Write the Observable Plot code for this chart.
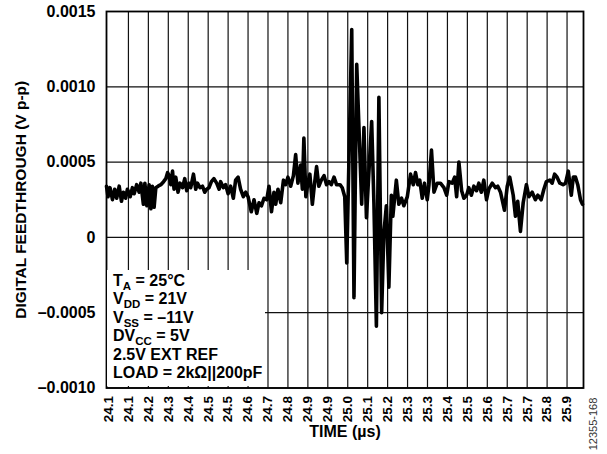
<!DOCTYPE html>
<html><head><meta charset="utf-8">
<script src="https://cdn.jsdelivr.net/npm/d3@7"></script>
<script src="https://cdn.jsdelivr.net/npm/@observablehq/plot@0.6"></script>
<style>
html,body{margin:0;padding:0;background:#fff;}
#wrap{position:relative;width:607px;height:454px;font-family:"Liberation Sans",Arial,sans-serif;font-weight:bold;}
#legend{position:absolute;left:107px;top:270px;width:158px;height:116px;background:#fff;}
.ll{position:absolute;left:6px;font-size:16px;line-height:16px;white-space:nowrap;color:#000;}
.ll sub{font-size:11.5px;vertical-align:-4px;line-height:0;}
</style></head><body><div id="wrap"><div id="chart"></div><div id="legend"></div></div>
<script>
// Time (µs)
const time = [
24.052,24.058,24.066,24.076,24.085,24.093,24.103,24.112,24.120,24.129,
24.136,24.147,24.156,24.163,24.173,24.183,24.190,24.200,24.206,24.214,
24.223,24.230,24.236,24.243,24.250,24.259,24.270,24.281,24.290,24.297,
24.303,24.310,24.317,24.323,24.330,24.339,24.347,24.357,24.366,24.374,
24.383,24.390,24.401,24.410,24.417,24.427,24.437,24.446,24.454,24.463,
24.473,24.483,24.494,24.504,24.510,24.521,24.530,
24.540,24.550,24.561,24.570,24.580,24.590,24.601,24.611,24.620,24.633,
24.644,24.655,24.664,24.674,24.684,24.695,24.704,24.714,24.724,24.731,
24.740,24.751,24.762,24.771,24.780,24.791,24.802,24.811,24.820,24.831,
24.838,24.844,24.852,24.860,24.868,24.878,24.887,24.895,24.904,24.914,
24.925,24.935,24.945,24.954,24.965,24.975,24.989,24.998,25.008,
25.016,25.036,25.045,25.056,25.076,25.085,25.095,25.116,25.125,25.135,
25.145,25.156,25.165,25.175,25.185,25.195,25.201,25.215,25.225,25.236,
25.245,
25.259,25.272,25.283,25.292,25.301,25.309,25.319,25.328,25.339,25.346,
25.356,25.366,25.379,25.392,25.406,25.417,25.426,25.439,25.449,25.457,
25.466,25.477,25.486,25.497,25.506,25.516,25.526,25.537,25.546,25.556,
25.566,25.577,25.586,25.600,25.613,25.622,25.633,25.649,25.660,25.670,
25.684,25.693,25.702,25.713,25.724,25.737,25.747,25.760,25.773,25.783,
25.796,25.807,25.817,25.831,25.840,25.850,25.860,25.871,25.884,25.894,
25.905,25.917,25.925,25.934,25.943,25.954,25.962
];
// Digital feedthrough (V p-p)
const feedthrough = [
0.00034,0.00027,0.00033,0.00025,0.00032,0.00026,0.00034,0.00024,0.00030,0.00026,
0.00032,0.00027,0.00033,0.00029,0.00035,0.00030,0.00036,0.00022,0.00036,0.00021,
0.00035,0.00019,0.00034,0.00020,0.00033,0.00034,0.00035,0.00037,0.00039,0.00043,
0.00041,0.00035,0.00044,0.00032,0.00040,0.00030,0.00036,0.00033,0.00039,0.00031,
0.00036,0.00033,0.00042,0.00032,0.00036,0.00033,0.00034,0.00030,0.00032,0.00033,
0.00037,0.00039,0.00036,0.00032,0.00037,0.00033,0.00035,
0.00029,0.00034,0.00026,0.00038,0.00040,0.00032,0.00027,0.00030,0.00027,0.00017,
0.00025,0.00016,0.00023,0.00021,0.00026,0.00025,0.00034,0.00017,0.00030,0.00022,
0.00032,0.00023,0.00038,0.00035,0.00040,0.00034,0.00041,0.00055,0.00036,0.00048,
0.00032,0.00066,0.00027,0.00036,0.00042,0.00022,0.00036,0.00047,0.00034,0.00038,
0.00041,0.00035,0.00037,0.00035,0.00040,0.00035,0.00035,0.00033,0.00027,
-0.00017,0.00138,-0.00040,0.00115,0.00022,0.00073,0.00013,0.00077,0.00023,-0.00059,
0.00093,-0.00050,0.00003,0.00021,-0.00033,0.00028,0.00014,0.00038,0.00022,0.00026,
0.00021,
0.00027,0.00042,0.00035,0.00043,0.00035,0.00038,0.00026,0.00036,0.00025,0.00035,
0.00058,0.00030,0.00036,0.00036,0.00033,0.00028,0.00037,0.00036,0.00040,0.00027,
0.00050,0.00031,0.00026,0.00028,0.00033,0.00028,0.00034,0.00031,0.00036,0.00030,
0.00038,0.00025,0.00032,0.00036,0.00033,0.00034,0.00030,0.00018,0.00034,0.00040,
0.00028,0.00014,0.00024,0.00004,0.00023,0.00035,0.00027,0.00030,0.00025,0.00028,
0.00025,0.00032,0.00037,0.00038,0.00036,0.00042,0.00040,0.00036,0.00035,0.00036,
0.00044,0.00028,0.00040,0.00040,0.00035,0.00025,0.00022
];
const xTicks = [24.06,24.14,24.22,24.30,24.38,24.46,24.54,24.62,24.70,24.78,24.86,24.94,
  25.02,25.10,25.18,25.26,25.34,25.42,25.50,25.58,25.66,25.74,25.82,25.90];
const xTickLabels = ["24.1","24.1","24.2","24.3","24.4","24.5","24.5","24.6","24.7","24.8","24.9","24.9",
  "25.0","25.1","25.2","25.3","25.3","25.4","25.5","25.6","25.7","25.7","25.8","25.9"];
const yTicks = [0.0015, 0.001, 0.0005, 0, -0.0005, -0.001];
const yTickLabels = ["0.0015","0.0010","0.0005","0","\u20130.0005","\u20130.0010"];
const xTitle = "TIME (\u00b5s)";
const yTitle = "DIGITAL FEEDTHROUGH (V p-p)";
const figId = "12355-168";
const legendLines = [
  ["T","A"," = 25\u00b0C"],
  ["V","DD"," = 21V"],
  ["V","SS"," = \u201311V"],
  ["DV","CC"," = 5V"],
  ["2.5V EXT REF"],
  ["LOAD = 2k\u03a9||200pF"]
];

const rows = time.map((t, i) => ({t, v: feedthrough[i]}));
const xLab = new Map(xTicks.map((d, i) => [d, xTickLabels[i]]));
const yLab = new Map(yTicks.map((d, i) => [d, yTickLabels[i]]));

const chart = Plot.plot({
  width: 607, height: 454,
  marginLeft: 106, marginRight: 24, marginTop: 11, marginBottom: 66.5,
  style: {fontFamily: "Liberation Sans, Arial, sans-serif", fontWeight: "bold", fontSize: "15px", color: "#000", background: "#fff", overflow: "visible"},
  x: {domain: [24.052, 25.966]},
  y: {domain: [-0.001, 0.0015]},
  marks: [
    Plot.gridX(xTicks.slice(1), {stroke: "#111", strokeOpacity: 1, strokeWidth: 1.2}),
    Plot.gridY(yTicks, {stroke: "#111", strokeOpacity: 1, strokeWidth: 1.2}),
    Plot.axisY(yTicks, {tickSize: 0, tickPadding: 11, tickFormat: d => yLab.get(d), label: null, fontSize: 16}),
    Plot.axisX(xTicks, {tickSize: 0, tickPadding: 8, tickRotate: -90, tickFormat: d => xLab.get(d), label: null, fontSize: 13.5}),
    Plot.line(rows, {x: "t", y: "v", stroke: "#000", strokeWidth: 3.6, strokeLinejoin: "round", strokeLinecap: "round"}),
    Plot.frame({stroke: "#000", strokeWidth: 1.8}),
    Plot.text([xTitle], {frameAnchor: "bottom", dy: 48.5, fontSize: 16}),
    Plot.text([yTitle], {frameAnchor: "left", textAnchor: "middle", dx: -85, rotate: -90, fontSize: 15.5}),
    Plot.text([figId], {frameAnchor: "bottom-right", textAnchor: "middle", dx: 13, dy: 36, rotate: -90, fontSize: 11, fontWeight: "normal", fill: "#333"})
  ]
});
document.getElementById("chart").appendChild(chart);

const legend = document.getElementById("legend");
legendLines.forEach((parts, i) => {
  const div = document.createElement("div");
  div.className = "ll";
  div.style.top = (2.5 + i * 18.5) + "px";
  div.appendChild(document.createTextNode(parts[0]));
  if (parts.length > 1) {
    const sub = document.createElement("sub");
    sub.textContent = parts[1];
    div.appendChild(sub);
    div.appendChild(document.createTextNode(parts[2]));
  }
  legend.appendChild(div);
});
</script></body></html>
